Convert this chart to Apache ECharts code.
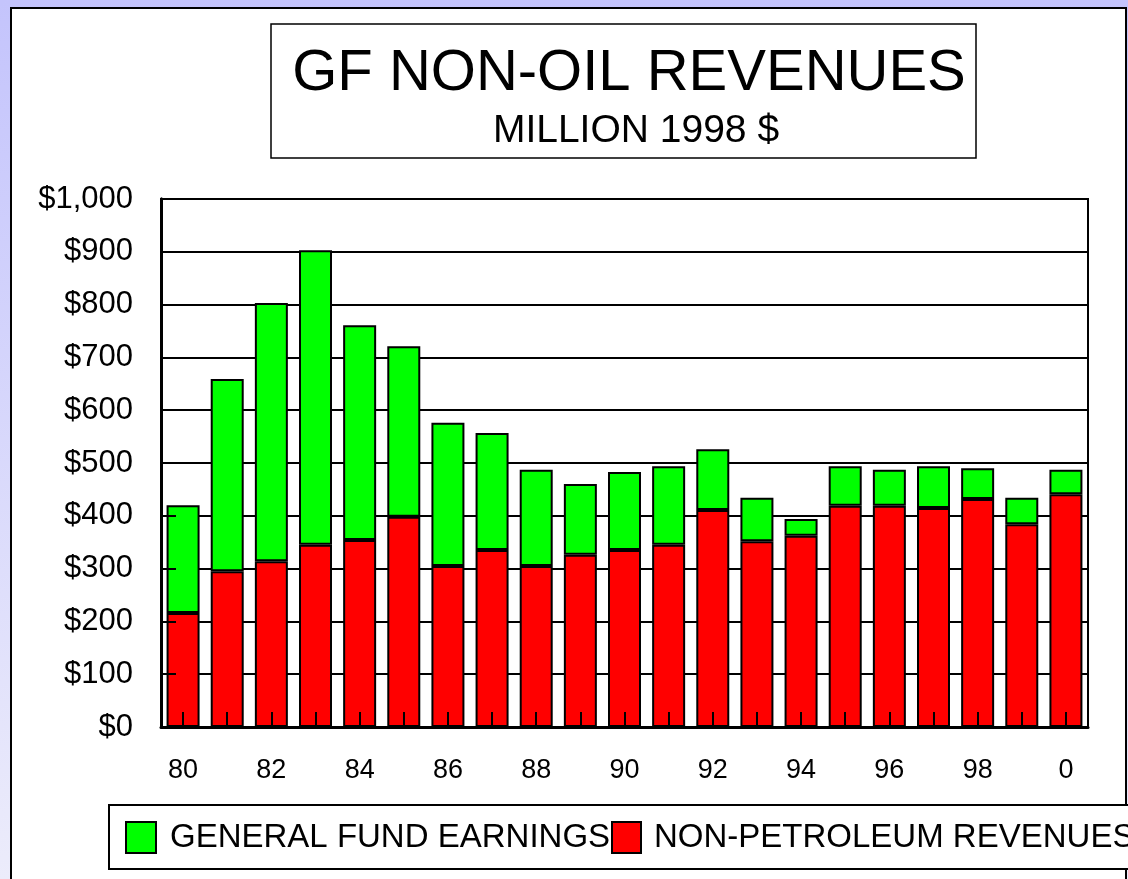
<!DOCTYPE html>
<html>
<head>
<meta charset="utf-8">
<script src="https://cdn.jsdelivr.net/npm/echarts@6/dist/echarts.min.js"></script>
<style>
  html, body { margin: 0; padding: 0; }
  #chart { width: 1128px; height: 879px; }
</style>
</head>
<body>
<div id="chart"></div>
<script>
  // values, million 1998 $
  var years = ['80', '81', '82', '83', '84', '85', '86', '87', '88', '89', '90',
               '91', '92', '93', '94', '95', '96', '97', '98', '99', '0'];
  var nonPetroleum = [216, 295, 314, 345, 354, 398, 305, 335, 305, 326, 335,
                      345, 411, 352, 362, 419, 419, 415, 432, 384, 441];
  var gfEarnings = [204, 364, 489, 558, 407, 323, 271, 222, 182, 134, 148,
                    149, 115, 82, 32, 75, 68, 79, 58, 50, 46];
  var yTicks = [0, 100, 200, 300, 400, 500, 600, 700, 800, 900, 1000];

  var FONT = 'Arial, "Liberation Sans", sans-serif';
  var chart = echarts.init(document.getElementById('chart'));

  var option = {
    animation: false,
    backgroundColor: {
      type: 'linear', x: 0, y: 0, x2: 0, y2: 1,
      colorStops: [{ offset: 0, color: '#c4c4fc' }, { offset: 1, color: '#ececfb' }]
    },
    graphic: [
      { type: 'rect', z: -1, shape: { x: 11, y: 8, width: 1115, height: 900 },
        style: { fill: '#fff', stroke: '#000', lineWidth: 2 } },
      { type: 'rect', z: 1, shape: { x: 271, y: 24, width: 705, height: 134 },
        style: { fill: '#fff', stroke: '#000', lineWidth: 1.5 } },
      { type: 'rect', z: 1, shape: { x: 109, y: 805, width: 1100, height: 64 },
        style: { fill: '#fff', stroke: '#000', lineWidth: 2 } }
    ],
    title: [
      { text: 'GF NON-OIL REVENUES', left: 624, top: 40, textAlign: 'center', z: 5,
        textStyle: { fontFamily: FONT, fontSize: 58, fontWeight: 'normal', color: '#000' } },
      { text: 'MILLION 1998 $', left: 631, top: 107, textAlign: 'center', z: 5,
        textStyle: { fontFamily: FONT, fontSize: 39, fontWeight: 'normal', color: '#000' } }
    ],
    legend: [
      { data: ['GENERAL FUND EARNINGS'], left: 120, top: 816, z: 5,
        itemWidth: 30, itemHeight: 31, icon: 'rect',
        itemStyle: { borderColor: '#000', borderWidth: 2 },
        textStyle: { fontFamily: FONT, fontSize: 33, color: '#000', padding: [20, 0, 0, 9] } },
      { data: ['NON-PETROLEUM REVENUES'], left: 606, top: 816, z: 5,
        itemWidth: 29, itemHeight: 31, icon: 'rect',
        itemStyle: { borderColor: '#000', borderWidth: 2 },
        textStyle: { fontFamily: FONT, fontSize: 33, color: '#000', padding: [20, 0, 0, 8] } }
    ],
    grid: {
      left: 161, top: 199, width: 927, height: 528,
      show: true, borderColor: '#000', borderWidth: 2, backgroundColor: '#fff'
    },
    xAxis: {
      type: 'category', data: years, zlevel: 1,
      axisLine: { lineStyle: { color: '#000', width: 3 } },
      axisTick: { show: true, inside: true, length: 15, interval: 0, alignWithLabel: true,
                  lineStyle: { color: '#000', width: 2 } },
      axisLabel: { interval: 1, margin: 30, fontFamily: FONT, fontSize: 27, color: '#000' }
    },
    yAxis: [
      {
        type: 'value', min: yTicks[0], max: yTicks[yTicks.length - 1], interval: 100,
        axisLine: { show: true, lineStyle: { color: '#000', width: 3 } },
        axisTick: { show: false },
        splitLine: { lineStyle: { color: '#000', width: 2 } },
        axisLabel: { margin: 28, fontFamily: FONT, fontSize: 31, color: '#000',
          formatter: function (v) { return '$' + v.toLocaleString('en-US'); } }
      },
      {
        // tick marks only, drawn over the bars
        type: 'value', position: 'left', zlevel: 1,
        min: yTicks[0], max: yTicks[yTicks.length - 1], interval: 100,
        axisLine: { show: true, lineStyle: { color: '#000', width: 3 } },
        axisTick: { show: true, inside: true, length: 15, lineStyle: { color: '#000', width: 2 } },
        splitLine: { show: false },
        axisLabel: { show: false }
      }
    ],
    series: [
      { name: 'NON-PETROLEUM REVENUES', type: 'bar', stack: 'rev', data: nonPetroleum,
        barWidth: 33, itemStyle: { color: '#ff0000', borderColor: '#000', borderWidth: 2 } },
      { name: 'GENERAL FUND EARNINGS', type: 'bar', stack: 'rev', data: gfEarnings,
        barWidth: 33, itemStyle: { color: '#00ff00', borderColor: '#000', borderWidth: 2 } }
    ]
  };

  chart.setOption(option);
</script>
</body>
</html>
